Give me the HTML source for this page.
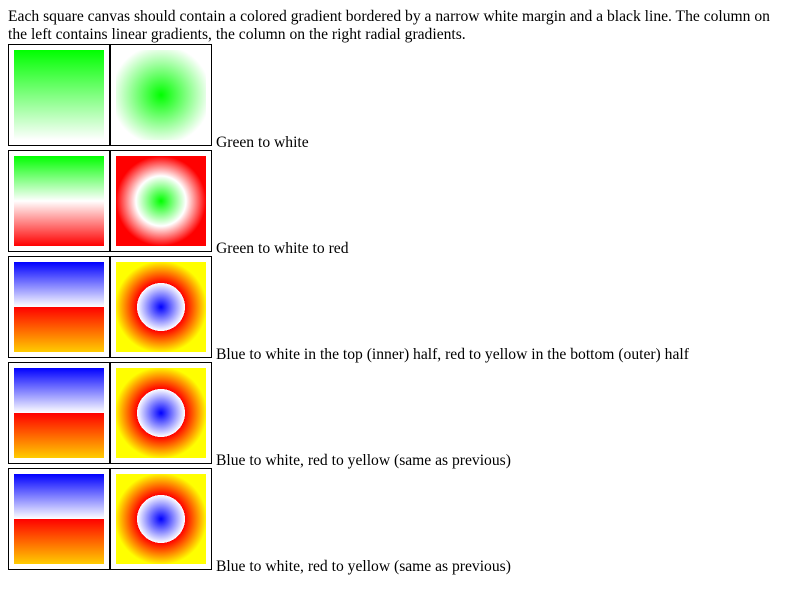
<!DOCTYPE html>
<html><head><meta charset="utf-8"><style>
body{margin:0;font-family:"Liberation Serif",serif;font-size:15.6px;background:#fff;color:#000;position:relative;width:800px;height:600px;overflow:hidden}
.c{position:absolute;width:100px;height:100px;border:1px solid #000}
.c div{position:absolute;left:5px;top:5px;width:90px;height:90px}
p{margin:0;position:absolute;left:8px;top:8px;width:776px;line-height:18px}
.row{position:absolute;left:8px;width:790px;height:106px}
.l{position:absolute;left:208px;top:90px;line-height:18px;white-space:nowrap}
</style></head><body>
<p>Each square canvas should contain a colored gradient bordered by a narrow white margin and a black line. The column on the left contains linear gradients, the column on the right radial gradients.</p>
<div class="row" style="top:44px"><span class="c" style="left:0"><div style="background:linear-gradient(#00ff00,#ffffff)"></div></span><span class="c" style="left:102px"><div style="background:radial-gradient(circle 50px at center,#00ff00,#ffffff)"></div></span><span class="l">Green to white</span></div>
<div class="row" style="top:150px"><span class="c" style="left:0"><div style="background:linear-gradient(#00ff00,#ffffff 50%,#ff0000)"></div></span><span class="c" style="left:102px"><div style="background:radial-gradient(circle 45px at center,#00ff00,#ffffff 25px,#ff0000 45px)"></div></span><span class="l">Green to white to red</span></div>
<div class="row" style="top:256px"><span class="c" style="left:0"><div style="background:linear-gradient(#0000ff,#ffffff 50%,#ff0000 50%,#ffcc00)"></div></span><span class="c" style="left:102px"><div style="background:radial-gradient(circle 46px at center,#0000ff,#ffffff 24px,#ff0000 24px,#ffff00 46px)"></div></span><span class="l">Blue to white in the top (inner) half, red to yellow in the bottom (outer) half</span></div>
<div class="row" style="top:362px"><span class="c" style="left:0"><div style="background:linear-gradient(#0000ff,#ffffff 50%,#ff0000 50%,#ffcc00)"></div></span><span class="c" style="left:102px"><div style="background:radial-gradient(circle 46px at center,#0000ff,#ffffff 24px,#ff0000 24px,#ffff00 46px)"></div></span><span class="l">Blue to white, red to yellow (same as previous)</span></div>
<div class="row" style="top:468px"><span class="c" style="left:0"><div style="background:linear-gradient(#0000ff,#ffffff 50%,#ff0000 50%,#ffcc00)"></div></span><span class="c" style="left:102px"><div style="background:radial-gradient(circle 46px at center,#0000ff,#ffffff 24px,#ff0000 24px,#ffff00 46px)"></div></span><span class="l">Blue to white, red to yellow (same as previous)</span></div>
</body></html>
